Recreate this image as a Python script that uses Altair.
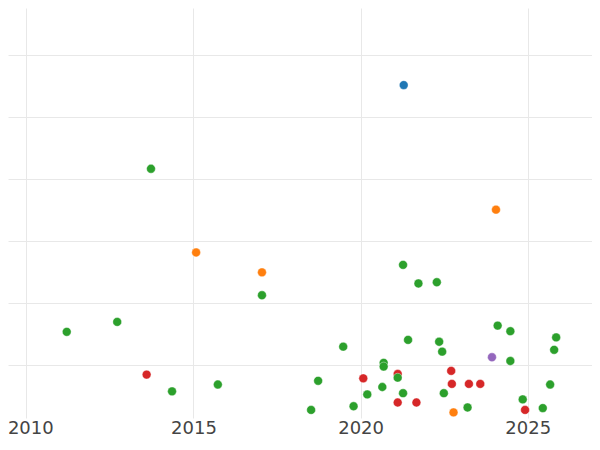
import altair as alt
import pandas as pd

# Data
years = [
    2021.29, 2013.73, 2015.08, 2017.05, 2017.05, 2024.05, 2011.21, 2012.72,
    2013.60, 2014.36, 2015.73, 2021.27, 2021.73, 2022.28, 2024.10, 2024.48,
    2025.85, 2025.79, 2019.48, 2021.42, 2022.35, 2022.44, 2023.93, 2024.48,
    2020.69, 2020.69, 2018.73, 2020.08, 2021.11, 2021.11, 2022.71, 2022.73,
    2023.24, 2023.58, 2025.67, 2020.65, 2020.20, 2021.27, 2022.49, 2024.85,
    2021.11, 2021.67, 2019.79, 2023.20, 2025.45, 2024.92, 2018.52, 2022.78,
]
values = [
    5.52, 4.17, 2.82, 2.50, 2.13, 3.51, 1.54, 1.70,
    0.85, 0.58, 0.69, 2.62, 2.32, 2.34, 1.64, 1.55,
    1.45, 1.25, 1.30, 1.41, 1.38, 1.22, 1.13, 1.07,
    1.04, 0.98, 0.75, 0.79, 0.86, 0.80, 0.91, 0.70,
    0.70, 0.70, 0.69, 0.65, 0.53, 0.55, 0.55, 0.45,
    0.40, 0.40, 0.34, 0.32, 0.31, 0.28, 0.28, 0.24,
]
groups = [
    "A", "C", "B", "B", "C", "B", "C", "C",
    "D", "C", "C", "C", "C", "C", "C", "C",
    "C", "C", "C", "C", "C", "C", "E", "C",
    "C", "C", "C", "D", "D", "C", "D", "D",
    "D", "D", "C", "C", "C", "C", "C", "C",
    "D", "D", "C", "C", "C", "D", "C", "B",
]
group_names = ["A", "B", "C", "D", "E"]
group_colors = ["#1f77b4", "#ff7f0e", "#2ca02c", "#d62728", "#9467bd"]
x_ticks = [2010, 2015, 2020, 2025]
y_grid = [1, 2, 3, 4, 5, 6]

df = pd.DataFrame({"year": years, "value": values, "group": groups})

chart = (
    alt.Chart(df)
    .mark_circle(size=78, opacity=1, stroke="white", strokeWidth=0.4)
    .encode(
        x=alt.X(
            "year:Q",
            scale=alt.Scale(domain=[2009.453, 2026.922], nice=False, zero=False),
            axis=alt.Axis(
                values=x_ticks, format="d", title=None, ticks=False, domain=False,
                labelFontSize=18, labelColor="#444444", labelPadding=1,
                labelFlush=False, labelFont="DejaVu Sans",
                labelOffset=alt.condition("datum.value == 2010", alt.value(4), alt.value(0)),
                gridColor="#e8e8e8", gridWidth=1,
            ),
        ),
        y=alt.Y(
            "value:Q",
            scale=alt.Scale(domain=[0.15, 6.763], nice=False, zero=False),
            axis=alt.Axis(
                values=y_grid, labels=False, ticks=False, domain=False, title=None,
                gridColor="#e8e8e8", gridWidth=1, minExtent=0, maxExtent=0,
            ),
        ),
        color=alt.Color(
            "group:N",
            scale=alt.Scale(domain=group_names, range=group_colors),
            legend=None,
        ),
    )
    .properties(
        width=584,
        height=410,
        padding={"left": 0, "top": 0, "right": 0, "bottom": 24},
        autosize=alt.AutoSizeParams(type="none"),
    )
    .configure_view(stroke=None)
)

chart.save("out.html", embed_options={"renderer": "svg", "actions": False})
